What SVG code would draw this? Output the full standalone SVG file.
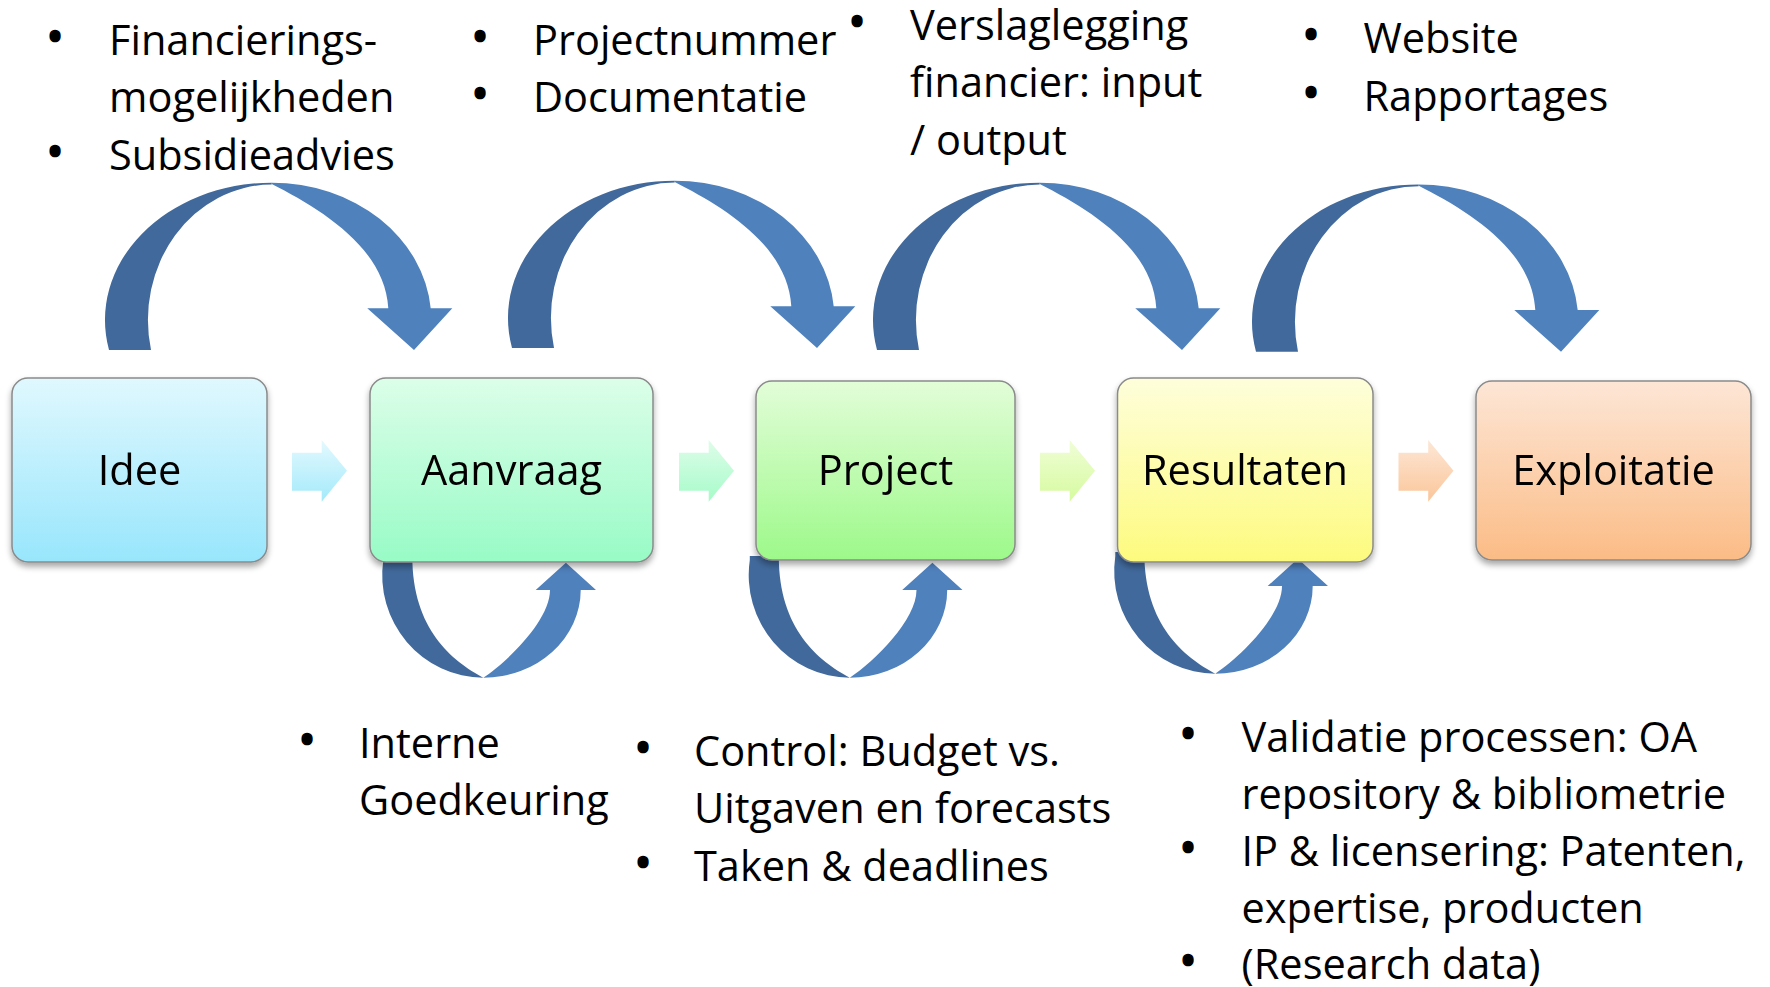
<svg xmlns="http://www.w3.org/2000/svg" width="1770" height="987" viewBox="0 0 1770 987">
<style>
.t{font-family:"Open Sans","Liberation Sans",sans-serif;font-size:41.5px;fill:#000}
.b{font-family:"Open Sans","Liberation Sans",sans-serif;font-size:41.5px;fill:#000;stroke:#000;stroke-width:2.6;text-anchor:middle}
.lbl{font-family:"Open Sans","Liberation Sans",sans-serif;font-size:41.5px;fill:#000;text-anchor:middle}
.box{stroke:#8a8a8a;stroke-width:1.5}
.dk{fill:#41699b}
.lt{fill:#4f81bd}
</style>
<defs>
<linearGradient id="gIdee" x1="0" y1="0" x2="0" y2="1"><stop offset="0" stop-color="#e0f8fe"/><stop offset="1" stop-color="#98e6fc"/></linearGradient>
<linearGradient id="gAanvraag" x1="0" y1="0" x2="0" y2="1"><stop offset="0" stop-color="#dcfee9"/><stop offset="1" stop-color="#98fbc6"/></linearGradient>
<linearGradient id="gProject" x1="0" y1="0" x2="0" y2="1"><stop offset="0" stop-color="#e2fdd8"/><stop offset="1" stop-color="#9df98a"/></linearGradient>
<linearGradient id="gResultaten" x1="0" y1="0" x2="0" y2="1"><stop offset="0" stop-color="#fefedb"/><stop offset="1" stop-color="#fdfb7e"/></linearGradient>
<linearGradient id="gExploitatie" x1="0" y1="0" x2="0" y2="1"><stop offset="0" stop-color="#fde6d6"/><stop offset="1" stop-color="#fbbc86"/></linearGradient>
<linearGradient id="pa1" x1="0" y1="0" x2="0" y2="1"><stop offset="0" stop-color="#e4f9fe"/><stop offset="1" stop-color="#a3eafb"/></linearGradient>
<linearGradient id="pa2" x1="0" y1="0" x2="0" y2="1"><stop offset="0" stop-color="#defde9"/><stop offset="1" stop-color="#a6fbc9"/></linearGradient>
<linearGradient id="pa3" x1="0" y1="0" x2="0" y2="1"><stop offset="0" stop-color="#f0fdd8"/><stop offset="1" stop-color="#d6fb9e"/></linearGradient>
<linearGradient id="pa4" x1="0" y1="0" x2="0" y2="1"><stop offset="0" stop-color="#fde7d6"/><stop offset="1" stop-color="#fbc69a"/></linearGradient>
<filter id="sh" x="-10%" y="-10%" width="125%" height="130%">
<feGaussianBlur in="SourceAlpha" stdDeviation="3"/>
<feOffset dy="4" result="o"/>
<feComponentTransfer><feFuncA type="linear" slope="0.35"/></feComponentTransfer>
<feMerge><feMergeNode/><feMergeNode in="SourceGraphic"/></feMerge>
</filter>
<g id="arcTop">
<path class="dk" d="M109,350 A166.7,137.3 0 0 1 271.7,182.7 L271.7,184.5 A123.8,135.5 0 0 0 151,350 Z"/>
<path class="lt" d="M271.7,182.7 A159.6,137.3 0 0 1 430.7,308.3 L452.3,308.3 L414,350 L367.3,308.3 L388.3,308.3 C385,248 320.8,208.9 271.7,184 Z"/>
</g>
<g id="arcBot">
<path class="dk" d="M383.3,556 L383.3,560 A101.5,102.7 0 0 0 483.3,677.7 C452.6,660.8 412.3,630 412.3,556 Z"/>
<path class="lt" d="M483.3,677.7 A97.4,87.7 0 0 0 580.7,590 L596,590 L565.9,562.7 L535.7,590 L550,590 C550,620 508.3,661.1 483.3,677.7 Z"/>
</g>
<path id="pale" d="M292,452.7 H321.7 V440 L347,470.8 L321.7,501.7 V490.7 H292 Z"/>
</defs>
<rect width="1770" height="987" fill="#fff"/>
<g id="connectors">
<use href="#arcTop"/>
<use href="#arcTop" transform="translate(403,-2)"/>
<use href="#arcTop" transform="translate(768,0)"/>
<use href="#arcTop" transform="translate(1147,1.7)"/>
<use href="#arcBot"/>
<use href="#arcBot" transform="translate(366.5,0)"/>
<use href="#arcBot" transform="translate(732,-4)"/>
<use href="#pale" fill="url(#pa1)"/>
<use href="#pale" fill="url(#pa2)" transform="translate(387,0)"/>
<use href="#pale" fill="url(#pa3)" transform="translate(748,0)"/>
<use href="#pale" fill="url(#pa4)" transform="translate(1106.5,0)"/>
</g>
<g id="node-idee" filter="url(#sh)">
<rect class="box" x="12" y="378" width="255" height="184" rx="16" fill="url(#gIdee)"/>
<text class="lbl" x="139.5" y="485">Idee</text>
</g>
<g id="node-aanvraag" filter="url(#sh)">
<rect class="box" x="370" y="378" width="283" height="184" rx="16" fill="url(#gAanvraag)"/>
<text class="lbl" x="511.5" y="485">Aanvraag</text>
</g>
<g id="node-project" filter="url(#sh)">
<rect class="box" x="756" y="381" width="259" height="179" rx="16" fill="url(#gProject)"/>
<text class="lbl" x="885.5" y="485">Project</text>
</g>
<g id="node-resultaten" filter="url(#sh)">
<rect class="box" x="1117.5" y="378" width="255.5" height="184" rx="16" fill="url(#gResultaten)"/>
<text class="lbl" x="1245" y="485">Resultaten</text>
</g>
<g id="node-exploitatie" filter="url(#sh)">
<rect class="box" x="1476" y="381" width="275" height="179" rx="16" fill="url(#gExploitatie)"/>
<text class="lbl" x="1613.5" y="485">Exploitatie</text>
</g>
<g id="notes-idee">
<text class="b" x="55" y="51">•</text>
<text class="t" x="109" y="55">Financierings-</text>
<text class="t" x="109" y="112">mogelijkheden</text>
<text class="b" x="55" y="166">•</text>
<text class="t" x="109" y="170">Subsidieadvies</text>
</g>
<g id="notes-aanvraag">
<text class="b" x="480" y="51">•</text>
<text class="t" x="533" y="55">Projectnummer</text>
<text class="b" x="480" y="108">•</text>
<text class="t" x="533" y="112">Documentatie</text>
</g>
<g id="notes-project">
<text class="b" x="857" y="36">•</text>
<text class="t" x="910" y="40">Verslaglegging</text>
<text class="t" x="910" y="97">financier: input</text>
<text class="t" x="910" y="155">/ output</text>
</g>
<g id="notes-resultaten">
<text class="b" x="1311" y="49">•</text>
<text class="t" x="1363.5" y="53">Website</text>
<text class="b" x="1311" y="107">•</text>
<text class="t" x="1363.5" y="111">Rapportages</text>
</g>
<g id="notes-aanvraag-loop">
<text class="b" x="307" y="754">•</text>
<text class="t" x="359" y="758">Interne</text>
<text class="t" x="359" y="815">Goedkeuring</text>
</g>
<g id="notes-project-loop">
<text class="b" x="643" y="762">•</text>
<text class="t" x="694" y="766">Control: Budget vs.</text>
<text class="t" x="694" y="823">Uitgaven en forecasts</text>
<text class="b" x="643" y="877">•</text>
<text class="t" x="694" y="881">Taken &amp; deadlines</text>
</g>
<g id="notes-resultaten-loop">
<text class="b" x="1188" y="748">•</text>
<text class="t" x="1241.5" y="752">Validatie processen: OA</text>
<text class="t" x="1241.5" y="809">repository &amp; bibliometrie</text>
<text class="b" x="1188" y="862">•</text>
<text class="t" x="1241.5" y="866">IP &amp; licensering: Patenten,</text>
<text class="t" x="1241.5" y="923">expertise, producten</text>
<text class="b" x="1188" y="975">•</text>
<text class="t" x="1241.5" y="979">(Research data)</text>
</g>
</svg>
